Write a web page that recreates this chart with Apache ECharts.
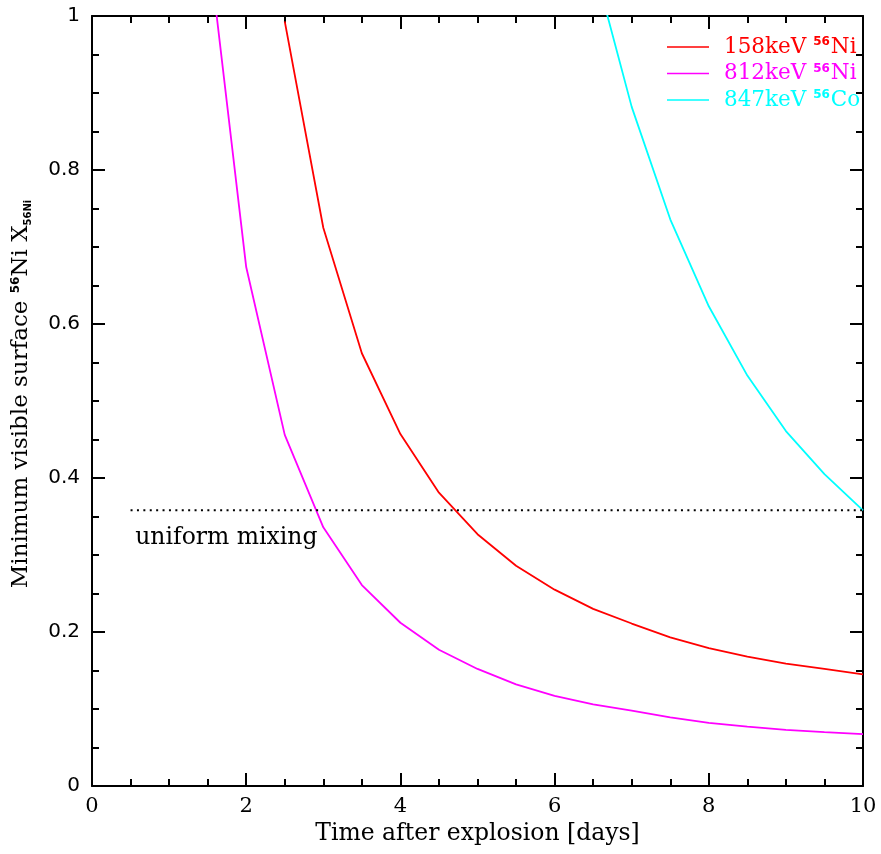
<!DOCTYPE html>
<html>
<head>
<meta charset="utf-8">
<script src="https://cdn.jsdelivr.net/npm/echarts@6/dist/echarts.min.js"></script>
<style>
  html, body { margin: 0; padding: 0; background: #fff; }
  #chart { width: 881px; height: 854px; }
</style>
</head>
<body>
<div id="chart"></div>
<script>
// Time after explosion (days), sampled every half day
const days = [1.5, 2, 2.5, 3, 3.5, 4, 4.5, 5, 5.5, 6, 6.5, 7, 7.5, 8, 8.5, 9, 9.5, 10];

// Minimum visible surface 56Ni mass fraction for each gamma line
const ni158 = [null, null, 0.993, 0.725, 0.562, 0.457, 0.381, 0.327, 0.286, 0.255, 0.230, 0.211, 0.193, 0.179, 0.168, 0.159, 0.152, 0.145];
const ni812 = [1.10, 0.674, 0.456, 0.336, 0.261, 0.212, 0.177, 0.152, 0.132, 0.117, 0.106, 0.098, 0.089, 0.082, 0.077, 0.073, 0.070, 0.0675];
const co847 = [null, null, null, null, null, null, null, null, null, null, 1.07, 0.882, 0.736, 0.623, 0.533, 0.461, 0.405, 0.358];

// Uniform-mixing reference level
const uniformLevel = 0.358;
const uniformRange = [0.5, 10];
const uniformLabel = 'uniform mixing';
const uniformLabelAt = [0.56, 0.322];

const seriesNames = ['158keV 56Ni', '812keV 56Ni', '847keV 56Co'];
const legendRich = {
  '158keV 56Ni': '{r|158keV }{rs|56}{r|Ni}',
  '812keV 56Ni': '{m|812keV }{ms|56}{m|Ni}',
  '847keV 56Co': '{c|847keV }{cs|56}{c|Co}'
};

const RED = '#ff0000', MAG = '#ff00ff', CYAN = '#00ffff';
const SERIF = 'DejaVu Serif';
const SANS = 'DejaVu Sans';

function pairs(xs, ys) {
  const out = [];
  for (let i = 0; i < xs.length; i++) {
    if (ys[i] !== null) out.push([xs[i], ys[i]]);
  }
  return out;
}

const tickStyle = { inside: true, length: 13, lineStyle: { color: '#000', width: 2 } };
const minorStyle = { show: true, splitNumber: 4, length: 7, lineStyle: { color: '#000', width: 2 } };
const lineAxis = { show: true, onZero: false, lineStyle: { color: '#000', width: 2 } };

function supStyle(color) {
  return { color: color, fontFamily: SANS, fontWeight: 'bold', fontSize: 12, verticalAlign: 'top', padding: [0, 1, 0, 0] };
}
function txtStyle(color) {
  return { color: color, fontFamily: SERIF, fontSize: 21.5 };
}

const chart = echarts.init(document.getElementById('chart'));
chart.setOption({
  animation: false,
  backgroundColor: '#fff',
  grid: { left: 92, right: 18, top: 16, bottom: 68, containLabel: false },
  legend: {
    data: seriesNames,
    orient: 'vertical',
    left: 662,
    top: 31,
    itemWidth: 42,
    itemHeight: 12,
    itemGap: 4.5,
    icon: 'path://M0,0 L42,0 L42,1.5 L0,1.5 Z',
    formatter: function (name) { return legendRich[name]; },
    textStyle: {
      padding: [0, 0, 0, 10],
      rich: {
        r: txtStyle(RED), rs: supStyle(RED),
        m: txtStyle(MAG), ms: supStyle(MAG),
        c: txtStyle(CYAN), cs: supStyle(CYAN)
      }
    }
  },
  xAxis: [
    {
      type: 'value', min: 0, max: 10, interval: 2,
      axisLine: lineAxis, axisTick: tickStyle, minorTick: minorStyle,
      splitLine: { show: false },
      axisLabel: { color: '#000', fontFamily: SERIF, fontSize: 21, margin: 10, showMinLabel: true, showMaxLabel: true },
      name: 'Time after explosion [days]',
      nameLocation: 'middle', nameGap: 35,
      nameTextStyle: { color: '#000', fontFamily: SERIF, fontSize: 23.5 }
    },
    {
      type: 'value', min: 0, max: 10, interval: 2, position: 'top',
      axisLine: lineAxis, axisTick: tickStyle, minorTick: minorStyle,
      splitLine: { show: false }, axisLabel: { show: false }
    }
  ],
  yAxis: [
    {
      type: 'value', min: 0, max: 1, interval: 0.2,
      axisLine: lineAxis, axisTick: tickStyle, minorTick: minorStyle,
      splitLine: { show: false },
      axisLabel: { color: '#000', fontFamily: SANS, fontSize: 20, margin: 12, showMinLabel: true, showMaxLabel: true },
      name: 'Minimum visible surface {sup|56}{t|Ni X}{sub|56Ni}',
      nameLocation: 'middle', nameGap: 59,
      nameTextStyle: {
        color: '#000', fontFamily: SERIF, fontSize: 23,
        padding: [0, 0, 0, 14],
        rich: {
          t: { color: '#000', fontFamily: SERIF, fontSize: 23 },
          sup: { color: '#000', fontFamily: SANS, fontWeight: 'bold', fontSize: 12, verticalAlign: 'top' },
          sub: { color: '#000', fontFamily: SANS, fontWeight: 'bold', fontSize: 10, verticalAlign: 'bottom', padding: [12, 0, 0, 0] }
        }
      }
    },
    {
      type: 'value', min: 0, max: 1, interval: 0.2, position: 'right',
      axisLine: lineAxis, axisTick: tickStyle, minorTick: minorStyle,
      splitLine: { show: false }, axisLabel: { show: false }
    }
  ],
  series: [
    {
      name: seriesNames[0], type: 'line', data: pairs(days, ni158),
      symbol: 'none', clip: true, color: RED,
      lineStyle: { color: RED, width: 1.8 }
    },
    {
      name: seriesNames[1], type: 'line', data: pairs(days, ni812),
      symbol: 'none', clip: true, color: MAG,
      lineStyle: { color: MAG, width: 1.8 }
    },
    {
      name: seriesNames[2], type: 'line', data: pairs(days, co847),
      symbol: 'none', clip: true, color: CYAN,
      lineStyle: { color: CYAN, width: 1.8 }
    },
    {
      name: 'uniform level', type: 'line',
      data: uniformRange.map(function (x) { return [x, uniformLevel]; }),
      symbol: 'none', silent: true,
      lineStyle: { color: '#000', width: 2, type: [2, 4.4] }
    },
    {
      name: 'uniform label', type: 'scatter',
      data: [uniformLabelAt],
      symbolSize: 0, silent: true,
      itemStyle: { color: '#ffffff', opacity: 1 },
      label: {
        show: true, position: 'right', distance: 0, opacity: 1,
        formatter: uniformLabel,
        color: '#000000', fontFamily: SERIF, fontSize: 23.5
      }
    }
  ]
});
</script>
</body>
</html>
